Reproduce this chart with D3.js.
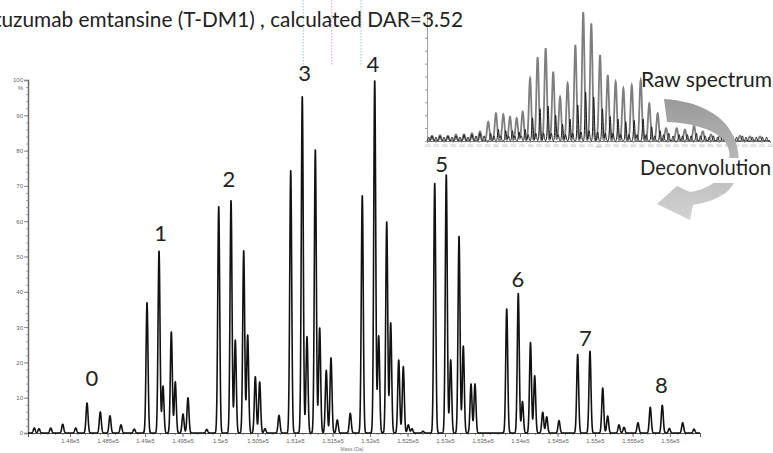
<!DOCTYPE html>
<html>
<head>
<meta charset="utf-8">
<script src="https://cdn.jsdelivr.net/npm/d3@7"></script>
<style>
  html, body { margin: 0; padding: 0; background: #fff; overflow: hidden; }
  svg { display: block; }
</style>
</head>
<body>
<svg id="chart" width="773" height="453"></svg>
<script>
// ---- Deconvolved spectrum: peak centroids (Da) and relative intensity (%) ----
const peakMass = [
  147524, 147587, 147743, 147903, 148076, 148227, 148404, 148533, 148680, 148857,
  149027, 149187, 149240, 149351, 149404, 149507, 149573, 149823,
  149983, 150147, 150204, 150316, 150369, 150471, 150529, 150600, 150787,
  150943, 151097, 151160, 151271, 151329, 151417, 151480, 151564, 151737,
  151897, 152063, 152116, 152223, 152276, 152383, 152444, 152511, 152560, 152707,
  152863, 153017, 153076, 153187, 153244, 153347, 153400,
  153823, 153977, 154033, 154140, 154196, 154303, 154356, 154520,
  154769, 154933, 155103, 155169, 155320, 155387, 155573,
  155737, 155897, 155991, 156169, 156320
];
const peakIntensity = [
  1.4, 1.2, 1.4, 2.5, 1.4, 8.5, 6.0, 4.9, 2.3, 1.1,
  37, 51.6, 13.3, 28.7, 14.5, 5.4, 10, 1.0,
  64.3, 66, 26.3, 51.6, 27.8, 16, 14.5, 1.2, 5,
  74.5, 95.5, 27.3, 80.4, 29.8, 17.8, 21.3, 3.7, 5.6,
  67.4, 100, 27.5, 59.9, 31.2, 20.7, 18.8, 2.3, 1.2, 0.5,
  70.9, 73.3, 20.7, 55.8, 24.6, 13.9, 13.9,
  35.2, 39.6, 8.9, 25.6, 16.2, 5.9, 4.6, 3.5,
  22.3, 23.2, 12.8, 4.8, 2.3, 1.6, 2.9,
  7.3, 7.9, 1.3, 2.9, 1.1
];

// Drug-to-antibody species labels (mass, intensity level of the label baseline)
const darLabels     = ["0", "1", "2", "3", "4", "5", "6", "7", "8"];
const darLabelMass  = [148293, 149209, 150120, 151127, 152040, 152956, 153973, 154871, 155884];
const darLabelLevel = [13.3, 54.4, 69.7, 99.7, 102.3, 73.9, 41.4, 24.6, 11.3];

// Axis ticks
const massTicks = [148000, 148500, 149000, 149500, 150000, 150500, 151000, 151500,
                   152000, 152500, 153000, 153500, 154000, 154500, 155000, 155500, 156000];
const massTickLabels = ["1.48e5", "1.485e5", "1.49e5", "1.495e5", "1.5e5", "1.505e5",
                        "1.51e5", "1.515e5", "1.52e5", "1.525e5", "1.53e5", "1.535e5",
                        "1.54e5", "1.545e5", "1.55e5", "1.555e5", "1.56e5"];
const intensityTicks = [0, 10, 20, 30, 40, 50, 60, 70, 80, 90, 100];

// Guide lines above the spectrum (Da)
const guideMass = [151110, 151490, 151880];

// ---- Raw (charge-state) spectrum shown in the inset ----
const rawMz = [
  2229, 2276, 2322, 2369, 2416, 2462, 2509,
  2557, 2602, 2645, 2684, 2723, 2758, 2801, 2845, 2892, 2936, 2976, 3020,
  3065, 3111, 3158, 3209, 3254, 3300, 3345, 3394, 3446, 3496, 3545,
  3594, 3656, 3704, 3757, 3808, 3856, 3908, 3967, 4025, 4083, 4142
];
const rawIntensity = [
  4, 4.5, 4, 5, 5, 6, 7.5,
  15, 21.5, 20.7, 18.8, 17.8, 22.7, 48.6, 64.9, 71.9, 53.7, 34.3, 44.7,
  74.4, 100, 91.2, 66.7, 51.2, 46, 40.9, 43.4, 47.3, 29.2, 21.5,
  10, 10, 8.9, 12, 7.6, 5, 4.5, 4, 4, 3.5, 3.5
];
// second (darker) trace: satellite peaks and baseline noise
const rawDarkMz = [
  2210, 2229, 2252, 2276, 2299, 2322, 2346, 2369, 2392, 2416, 2439, 2462, 2486, 2509, 2533,
  2571, 2590, 2616, 2630, 2659, 2675, 2698, 2712, 2737, 2750, 2772, 2790, 2815, 2835,
  2859, 2880, 2906, 2925, 2950, 2965, 2990, 3008, 3034, 3050, 3079, 3098, 3125, 3145,
  3172, 3195, 3223, 3240, 3268, 3285, 3314, 3330, 3359, 3378, 3408, 3425, 3460, 3478,
  3510, 3528, 3559, 3580, 3610, 3635, 3670, 3690, 3718, 3740, 3771, 3795, 3822, 3845,
  3870, 3895, 3922, 3945, 3981, 4005, 4039, 4060, 4097, 4120, 4156, 4180
];
const rawDarkIntensity = [
  3, 4, 3, 4, 3, 4, 3, 4, 3, 5, 3, 5, 4, 6, 4,
  6, 4, 9, 4, 8, 4, 8, 4, 7, 4, 9, 5, 18, 6,
  25, 6, 27, 6, 20, 5, 13, 5, 17, 6, 28, 7, 38, 8,
  34, 7, 25, 6, 19, 6, 17, 5, 15, 5, 16, 5, 17, 5,
  11, 4, 8, 5, 6, 4, 5, 4, 5, 4, 6, 4, 4, 3,
  4, 3, 4, 3, 4, 3, 4, 3, 3, 3, 3, 3
];
const rawMzTicks = d3.range(2200, 4201, 50);
const rawIntensityTicks = [0, 10, 20, 30, 40, 50, 60, 70, 80, 90, 100];

// ---------------------------------------------------------------------------
const svg = d3.select("#chart");
const LARGE_FONT = "Lato, 'Open Sans', sans-serif";
const SMALL_FONT = "'Liberation Sans', Arial, sans-serif";

// profile of a set of centroids, each peak given a gaussian shape
function profile(centres, heights, domain, step, sigma) {
  const pts = [];
  for (let m = domain[0]; m <= domain[1]; m += step) {
    let v = 0;
    for (let i = 0; i < centres.length; i++) {
      const d = m - centres[i];
      if (Math.abs(d) < sigma * 6) v += heights[i] * Math.exp(-d * d / (2 * sigma * sigma));
    }
    pts.push([m, v]);
  }
  return pts;
}

// ---- Inset: raw spectrum ----
const ix = d3.scaleLinear().domain([2200, 4200]).range([427, 770]);
const iy = d3.scaleLinear().domain([0, 100]).range([141, 12]);
const inset = svg.append("g");

const iAxisX = inset.append("g")
  .attr("transform", `translate(0,${iy(0)})`)
  .call(d3.axisBottom(ix).tickValues(rawMzTicks).tickSize(2).tickFormat(d3.format("d")));
iAxisX.select(".domain").attr("stroke", "#777").attr("stroke-width", 1);
iAxisX.selectAll(".tick line").attr("stroke", "#999");
iAxisX.selectAll(".tick text").attr("font-size", 2.6).attr("fill", "#aaa")
  .attr("font-family", SMALL_FONT).attr("dy", "0.2em");

const iAxisY = inset.append("g")
  .attr("transform", `translate(${ix(2200)},0)`)
  .call(d3.axisLeft(iy).tickValues(rawIntensityTicks).tickSize(2).tickFormat(""));
iAxisY.select(".domain").attr("stroke", "#888").attr("stroke-width", 0.8);
iAxisY.selectAll(".tick line").attr("stroke", "#999");

inset.append("text")
  .attr("x", ix(3200)).attr("y", 148)
  .attr("text-anchor", "middle").attr("font-size", 3).attr("fill", "#aaa")
  .attr("font-family", SMALL_FONT).text("m/z");

const iLine = d3.line().x(d => ix(d[0])).y(d => iy(d[1]));
inset.append("path")
  .datum(profile(rawMz, rawIntensity, [2200, 4200], 1, 7))
  .attr("fill", "none").attr("stroke", "#7e7e7e").attr("stroke-width", 1.8)
  .attr("d", iLine);
inset.append("path")
  .datum(profile(rawDarkMz, rawDarkIntensity, [2200, 4200], 1, 4))
  .attr("fill", "none").attr("stroke", "#1a1a1a").attr("stroke-width", 1)
  .attr("d", iLine);

// ---- Main deconvolved spectrum ----
const x = d3.scaleLinear().domain([147440, 156400]).range([28, 700]);
const y = d3.scaleLinear().domain([0, 100]).range([433, 80]);

// dotted guides near the top
svg.append("g").selectAll("line")
  .data(guideMass)
  .join("line")
  .attr("x1", d => x(d)).attr("x2", d => x(d))
  .attr("y1", 0).attr("y2", 66)
  .attr("stroke", (d, i) => i === 1 ? "#d7a6dc" : "#9cc3e6")
  .attr("stroke-width", 1)
  .attr("stroke-dasharray", "1.5,1.5");

// x axis: minor + major ticks
const minorX = svg.append("g")
  .attr("transform", `translate(0,${y(0)})`)
  .call(d3.axisBottom(x).tickValues(d3.range(147500, 156401, 100)).tickSize(2).tickFormat(""));
minorX.select(".domain").remove();
minorX.selectAll(".tick line").attr("stroke", "#999");

const axisX = svg.append("g")
  .attr("transform", `translate(0,${y(0)})`)
  .call(d3.axisBottom(x).tickValues(massTicks).tickSize(4)
        .tickFormat((d, i) => massTickLabels[i]));
axisX.select(".domain").attr("stroke", "#555").attr("stroke-width", 1);
axisX.selectAll(".tick line").attr("stroke", "#777");
axisX.selectAll(".tick text").attr("font-size", 6).attr("fill", "#666")
  .attr("font-family", SMALL_FONT).attr("dy", "0.5em");

svg.append("text")
  .attr("x", x(151760)).attr("y", 451)
  .attr("text-anchor", "middle").attr("font-size", 5).attr("fill", "#777")
  .attr("font-family", SMALL_FONT).text("Mass (Da)");

// y axis: minor + major ticks
const minorY = svg.append("g")
  .attr("transform", `translate(${x(147440)},0)`)
  .call(d3.axisLeft(y).tickValues(d3.range(0, 101, 2)).tickSize(2).tickFormat(""));
minorY.select(".domain").remove();
minorY.selectAll(".tick line").attr("stroke", "#aaa");

const axisY = svg.append("g")
  .attr("transform", `translate(${x(147440)},0)`)
  .call(d3.axisLeft(y).tickValues(intensityTicks).tickSize(4));
axisY.select(".domain").attr("stroke", "#666").attr("stroke-width", 1.4);
axisY.selectAll(".tick line").attr("stroke", "#888");
axisY.selectAll(".tick text").attr("font-size", 6).attr("fill", "#666")
  .attr("font-family", SMALL_FONT).attr("x", -5);

svg.append("text")
  .attr("x", x(147440) - 5).attr("y", y(97.6)).attr("dy", "0.32em")
  .attr("text-anchor", "end").attr("font-size", 6).attr("fill", "#666")
  .attr("font-family", SMALL_FONT).text("%");

// spectrum trace
const line = d3.line().x(d => x(d[0])).y(d => y(d[1]));
svg.append("path")
  .datum(profile(peakMass, peakIntensity, [147440, 156400], 2, 13))
  .attr("fill", "none")
  .attr("stroke", "#111")
  .attr("stroke-width", 1.6)
  .attr("stroke-linejoin", "round")
  .attr("d", line);

// DAR species labels
svg.append("g").selectAll("text")
  .data(darLabels)
  .join("text")
  .attr("x", (d, i) => x(darLabelMass[i]))
  .attr("y", (d, i) => y(darLabelLevel[i]))
  .attr("text-anchor", "middle")
  .attr("font-family", LARGE_FONT)
  .attr("font-size", 22)
  .attr("fill", "#222")
  .text(d => d);

// fit a text's font size so a given part of it spans a target width
function fitSize(str, target, base) {
  const t = svg.append("text").attr("font-family", LARGE_FONT).attr("font-size", base).text(str);
  const w = t.node().getComputedTextLength();
  t.remove();
  return base * target / w;
}

// title (its start runs past the left edge)
const titleTail = "uzumab emtansine (T-DM1) , calculated DAR=3.52";
const titleSize = fitSize(titleTail, 462, 20);
svg.append("text")
  .attr("x", 463).attr("y", 27)
  .attr("text-anchor", "end")
  .attr("font-family", LARGE_FONT)
  .attr("font-size", titleSize)
  .attr("fill", "#222")
  .text("Trastuzumab emtansine (T-DM1) , calculated DAR=3.52");

// ---- Curved arrow from raw to deconvolved spectrum ----
const defs = svg.append("defs");
const grad = defs.append("linearGradient")
  .attr("id", "arrowFill").attr("x1", 0).attr("y1", 0).attr("x2", 0).attr("y2", 1);
grad.append("stop").attr("offset", "0%").attr("stop-color", "#9a9a9a");
grad.append("stop").attr("offset", "45%").attr("stop-color", "#b4b4b4");
grad.append("stop").attr("offset", "100%").attr("stop-color", "#d2d2d2");

svg.append("path")
  .attr("d", "M664,99 C698,101 726,115 735,140 C742,160 739,180 728,191 " +
             "C720,198 706,203 693,205 L690,220 L657,204 L677,186 L690,192 " +
             "C705,190 719,182 726,170 C732,158 730,146 722,138 " +
             "C710,128 690,123 667,122 Z")
  .attr("fill", "url(#arrowFill)");

// step captions
const capSize = fitSize("Deconvolution", 131, 20);
svg.append("rect")
  .attr("x", 635).attr("y", 158).attr("width", 138).attr("height", 25)
  .attr("fill", "#fff");
svg.append("text")
  .attr("x", 640).attr("y", 175)
  .attr("font-family", LARGE_FONT).attr("font-size", capSize).attr("fill", "#222")
  .text("Deconvolution");

const rawSize = fitSize("Raw spectrum", 131, 20);
svg.append("text")
  .attr("x", 641).attr("y", 87)
  .attr("font-family", LARGE_FONT).attr("font-size", rawSize).attr("fill", "#222")
  .text("Raw spectrum");
</script>
</body>
</html>
